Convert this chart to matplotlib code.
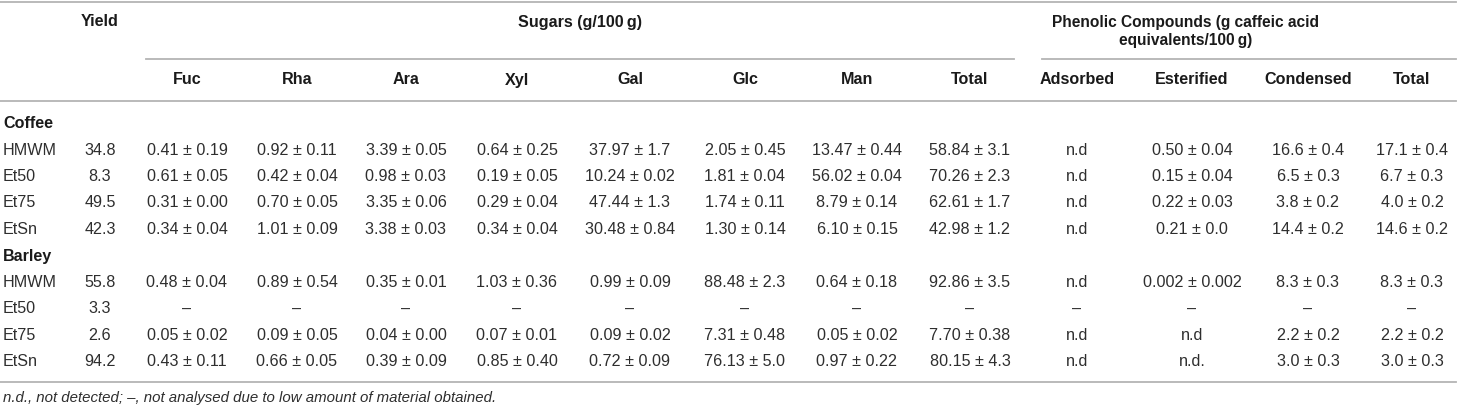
import matplotlib.pyplot as plt

# ============================================================
# TABLE CONTENT
# ============================================================

groups = ["Coffee", "Barley"]
samples = ["HMWM", "Et50", "Et75", "EtSn"]

yield_vals = ["34.8", "8.3", "49.5", "42.3",
              "55.8", "3.3", "2.6", "94.2"]

sugar_cols = ["Fuc", "Rha", "Ara", "Xyl", "Gal", "Glc", "Man", "Total"]
fuc = ["0.41 ± 0.19", "0.61 ± 0.05", "0.31 ± 0.00", "0.34 ± 0.04",
       "0.48 ± 0.04", "–", "0.05 ± 0.02", "0.43 ± 0.11"]
rha = ["0.92 ± 0.11", "0.42 ± 0.04", "0.70 ± 0.05", "1.01 ± 0.09",
       "0.89 ± 0.54", "–", "0.09 ± 0.05", "0.66 ± 0.05"]
ara = ["3.39 ± 0.05", "0.98 ± 0.03", "3.35 ± 0.06", "3.38 ± 0.03",
       "0.35 ± 0.01", "–", "0.04 ± 0.00", "0.39 ± 0.09"]
xyl = ["0.64 ± 0.25", "0.19 ± 0.05", "0.29 ± 0.04", "0.34 ± 0.04",
       "1.03 ± 0.36", "–", "0.07 ± 0.01", "0.85 ± 0.40"]
gal = ["37.97 ± 1.7", "10.24 ± 0.02", "47.44 ± 1.3", "30.48 ± 0.84",
       "0.99 ± 0.09", "–", "0.09 ± 0.02", "0.72 ± 0.09"]
glc = ["2.05 ± 0.45", "1.81 ± 0.04", "1.74 ± 0.11", "1.30 ± 0.14",
       "88.48 ± 2.3", "–", "7.31 ± 0.48", "76.13 ± 5.0"]
man = ["13.47 ± 0.44", "56.02 ± 0.04", "8.79 ± 0.14", "6.10 ± 0.15",
       "0.64 ± 0.18", "–", "0.05 ± 0.02", "0.97 ± 0.22"]
sugar_total = ["58.84 ± 3.1", "70.26 ± 2.3", "62.61 ± 1.7", "42.98 ± 1.2",
               "92.86 ± 3.5", "–", "7.70 ± 0.38", "80.15 ± 4.3"]

phenol_cols = ["Adsorbed", "Esterified", "Condensed", "Total"]
adsorbed = ["n.d", "n.d", "n.d", "n.d", "n.d", "–", "n.d", "n.d"]
esterified = ["0.50 ± 0.04", "0.15 ± 0.04", "0.22 ± 0.03", "0.21 ± 0.0",
              "0.002 ± 0.002", "–", "n.d", "n.d."]
condensed = ["16.6 ± 0.4", "6.5 ± 0.3", "3.8 ± 0.2", "14.4 ± 0.2",
             "8.3 ± 0.3", "–", "2.2 ± 0.2", "3.0 ± 0.3"]
phenol_total = ["17.1 ± 0.4", "6.7 ± 0.3", "4.0 ± 0.2", "14.6 ± 0.2",
                "8.3 ± 0.3", "–", "2.2 ± 0.2", "3.0 ± 0.3"]

footnote = "n.d., not detected; –, not analysed due to low amount of material obtained."

# ============================================================
# LAYOUT (pixel coordinates of the 1458 x 410 canvas)
# ============================================================

W, H = 1458, 410
TEXT = "#2e2e2e"
HEAD = "#1a1a1a"
RULE = "#b4b4b4"
FS = 11.6

plt.rcParams['font.family'] = ['Liberation Sans', 'DejaVu Sans']

fig = plt.figure(figsize=(W / 100, H / 100), dpi=100)
ax = fig.add_axes([0, 0, 1, 1])
ax.set_xlim(0, W)
ax.set_ylim(H, 0)
ax.axis('off')

# horizontal rules
ax.plot([0, 1456], [3, 3], color=RULE, lw=1.3)
ax.plot([146, 1014], [60, 60], color=RULE, lw=1.3)
ax.plot([1042, 1456], [60, 60], color=RULE, lw=1.3)
ax.plot([0, 1456], [102, 102], color=RULE, lw=1.3)
ax.plot([0, 1456], [383, 383], color=RULE, lw=1.3)

# group headers
ax.text(100, 22, "Yield", ha='center', va='center', fontsize=FS,
        fontweight='bold', color=HEAD)
ax.text(580, 22, "Sugars (g/100\u2009g)", ha='center', va='center',
        fontsize=FS, fontweight='bold', color=HEAD)
ax.text(1186, 22, "Phenolic Compounds (g caffeic acid", ha='center',
        va='center', fontsize=11.2, fontweight='bold', color=HEAD)
ax.text(1186, 41, "equivalents/100\u2009g)", ha='center', va='center',
        fontsize=11.2, fontweight='bold', color=HEAD)

# sub-column headers and value columns
col_x = [187, 297, 406, 517, 630, 745, 857, 970,
         1077, 1192, 1308, 1412]
col_names = sugar_cols + phenol_cols
col_data = [fuc, rha, ara, xyl, gal, glc, man, sugar_total,
            adsorbed, esterified, condensed, phenol_total]

for x, name in zip(col_x, col_names):
    ax.text(x, 80, name, ha='center', va='center', fontsize=FS,
            fontweight='bold', color=HEAD)

# rows
group_y = [124, 256]
row_y = [[151, 177, 203, 230], [283, 309, 336, 362]]

for g, gname in enumerate(groups):
    ax.text(3, group_y[g], gname, ha='left', va='center', fontsize=FS,
            fontweight='bold', color=HEAD)
    for r, sname in enumerate(samples):
        idx = g * len(samples) + r
        y = row_y[g][r]
        ax.text(3, y, sname, ha='left', va='center', fontsize=FS, color=TEXT)
        ax.text(100, y, yield_vals[idx], ha='center', va='center',
                fontsize=FS, color=TEXT)
        for x, col in zip(col_x, col_data):
            ax.text(x, y, col[idx], ha='center', va='center',
                    fontsize=FS, color=TEXT)

ax.text(3, 398, footnote, ha='left', va='center', fontsize=10.8,
        style='italic', color=TEXT)

fig.savefig("out.png", dpi=100)
